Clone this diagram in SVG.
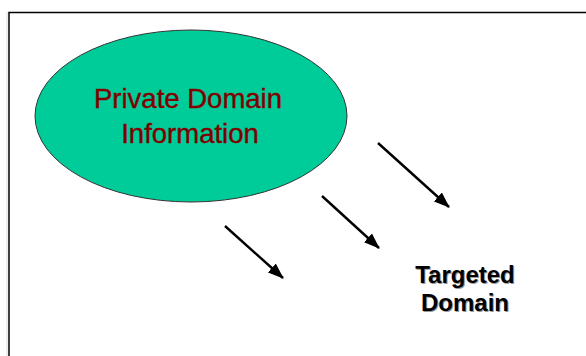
<svg xmlns="http://www.w3.org/2000/svg" width="586" height="356" viewBox="0 0 586 356">
<defs>
<marker id="ah" viewBox="0 0 16 12" refX="15" refY="6" markerWidth="16" markerHeight="12" orient="auto" markerUnits="userSpaceOnUse">
<path d="M0,0 L16,6 L0,12 z" fill="#000"/>
</marker>
</defs>
<style>
.conn{stroke:#000;stroke-width:2.4;fill:none;marker-end:url(#ah)}
.t1{font-family:"Liberation Sans",Arial,sans-serif;font-size:27.5px;fill:#800000;stroke:#800000;stroke-width:0.4;text-anchor:middle}
.t2{font-family:"Liberation Sans",Arial,sans-serif;font-size:24px;font-weight:bold;text-anchor:middle}
</style>
<rect width="586" height="356" fill="#fff"/>
<line x1="7" y1="12" x2="7" y2="356" stroke="#ddd" stroke-width="1"/>
<path d="M9,356 V12.5 H586" fill="none" stroke="#000" stroke-width="1.5"/>
<g id="private-domain">
<ellipse cx="191" cy="116" rx="156" ry="86" fill="#00CC99" stroke="#333" stroke-width="1"/>
<text class="t1" x="188" y="108">Private Domain</text>
<text class="t1" x="190" y="143">Information</text>
</g>
<g id="targeted-domain">
<text class="t2" x="466" y="284" fill="#999">Targeted</text>
<text class="t2" x="466" y="312" fill="#999">Domain</text>
<text class="t2" x="465" y="283" fill="#000">Targeted</text>
<text class="t2" x="465" y="311" fill="#000">Domain</text>
</g>
<g id="connectors">
<line class="conn" x1="378" y1="143" x2="449" y2="207"/>
<line class="conn" x1="322" y1="196" x2="379" y2="248"/>
<line class="conn" x1="225" y1="226" x2="283" y2="278"/>
</g>
</svg>
